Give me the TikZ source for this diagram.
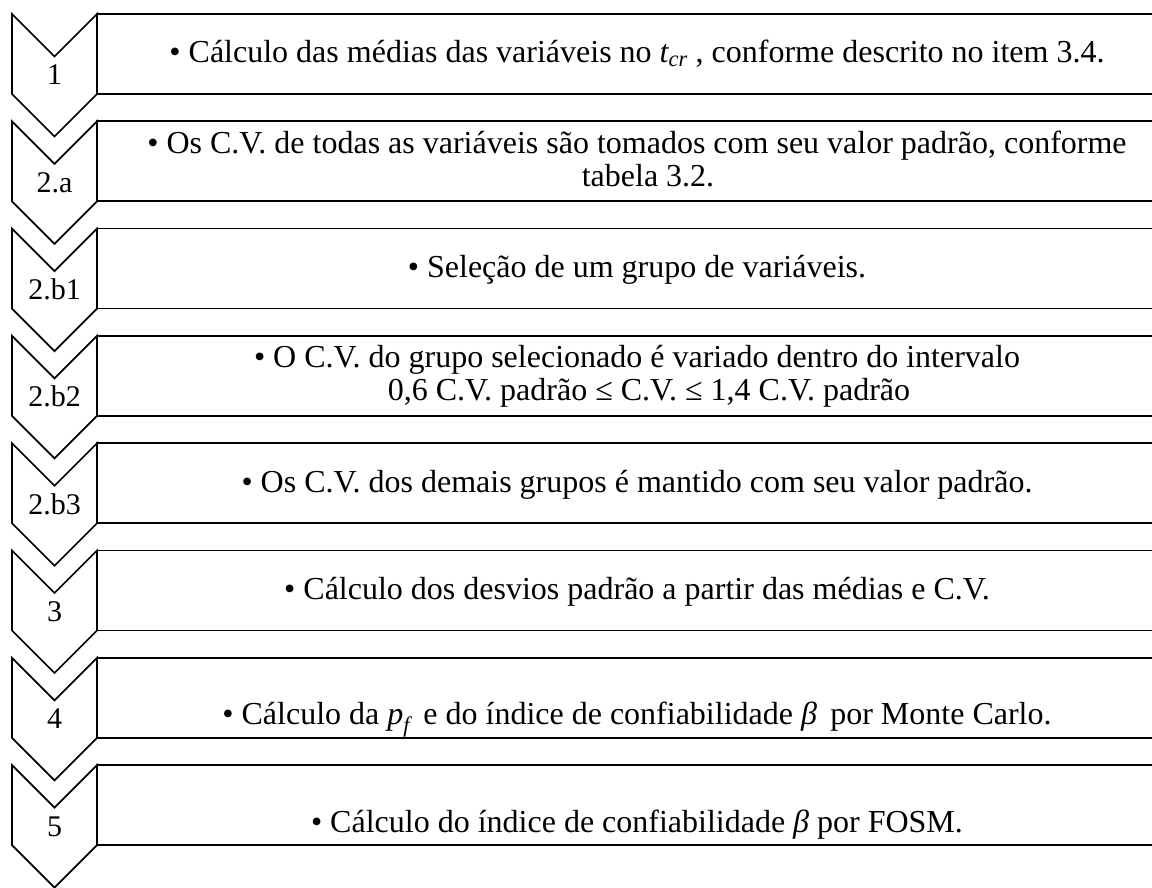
\documentclass[tikz,border=0pt]{standalone}
\usepackage{fontspec}
\setmainfont{Liberation Serif}
\newcommand\ital[1]{{\itshape #1}}
\newcommand\subit[1]{\textsubscript{\itshape #1}}
\begin{document}
\begin{tikzpicture}[x=1pt,y=-1pt,
  shapeline/.style={line width=1.7pt, line join=miter},
  txt/.style={anchor=base, inner sep=0pt, font=\fontsize{32}{34}\selectfont},
  numlbl/.style={anchor=base, inner sep=0pt, font=\fontsize{30}{33}\selectfont}]
\useasboundingbox (0,0) rectangle (1152,888);
\begin{scope}
\clip (0,0) rectangle (1152,888);
\foreach \t/\lab/\nm in {14/1/c1, 121.3/2.a/c2, 228.6/2.b1/c3, 335.9/2.b2/c4, 443.2/2.b3/c5, 550.5/3/c6, 657.8/4/c7, 765.1/5/c8}{
  % rectangle (open to the right, beyond the picture)
  \draw[shapeline] (97,\t) rectangle (1200,\t+80);
  % chevron
  \draw[shapeline] (12,\t) -- (54.5,\t+42.5) -- (97,\t) -- (97,\t+80) -- (54.5,\t+122.5) -- (12,\t+80) -- cycle;
  \node[numlbl] (\nm) at (54.5,\t+71) {\lab};
}
\end{scope}
\node[txt] (t1) at (637,63) {• Cálculo das médias das variáveis no \ital{t}\subit{cr} , conforme descrito no item 3.4.};
\node[txt] (t2a) at (637,153.3) {• Os C.V. de todas as variáveis são tomados com seu valor padrão, conforme};
\node[txt] (t2b) at (648,186.3) {tabela 3.2.};
\node[txt] (t3) at (637,277.6) {• Seleção de um grupo de variáveis.};
\node[txt] (t4a) at (637,367.9) {• O C.V. do grupo selecionado é variado dentro do intervalo};
\node[txt] (t4b) at (649,400.9) {0,6 C.V. padrão ≤ C.V. ≤ 1,4 C.V. padrão};
\node[txt] (t5) at (637,492.2) {• Os C.V. dos demais grupos é mantido com seu valor padrão.};
\node[txt] (t6) at (637,599.5) {• Cálculo dos desvios padrão a partir das médias e C.V.};
\node[txt] (t7) at (637,724.8) {• Cálculo da \ital{p}\subit{f}\, e do índice de confiabilidade \ital{β}\, por Monte Carlo.};
\node[txt] (t8) at (637,832.1) {• Cálculo do índice de confiabilidade \ital{β} por FOSM.};
\end{tikzpicture}
\end{document}
